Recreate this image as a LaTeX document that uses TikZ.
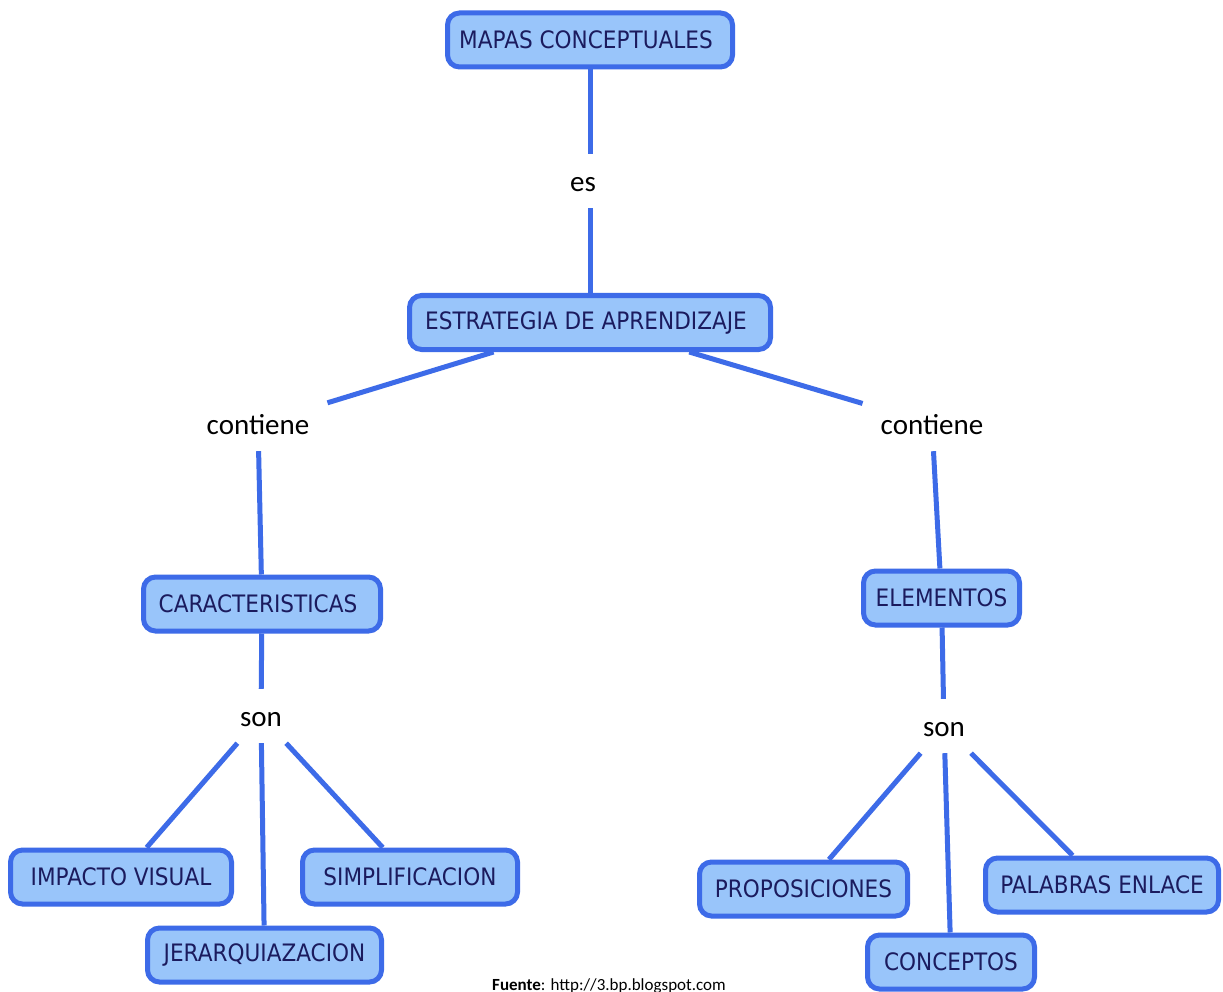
\documentclass[tikz,border=0pt]{standalone}
\usepackage{fontspec}
\setmainfont{Carlito}
\newfontfamily\boxfont[FakeStretch=0.9]{DejaVu Sans}
\usetikzlibrary{backgrounds}
\definecolor{bordeazul}{HTML}{3D6BE8}
\definecolor{rellenoazul}{HTML}{99C5FA}
\definecolor{textoazul}{HTML}{1B1B5E}
\begin{document}
\begin{tikzpicture}[x=1pt,y=-1pt,
  concepto/.style={draw=bordeazul, fill=rellenoazul, line width=5pt, rounded corners=12pt,
    text=textoazul, font=\boxfont\fontsize{24}{28}\selectfont, minimum height=54pt, inner xsep=0pt},
  textoizq/.style={execute at begin node={\hspace*{-8pt}}},
  enlace/.style={font=\fontsize{29}{34}\selectfont, inner xsep=18pt, inner ysep=0pt,
    text height=22pt, text depth=0.5pt, minimum height=54pt},
  conector/.style={draw=bordeazul, line width=5pt}]
\useasboundingbox (0,0) rectangle (1223,992);

\node[concepto, textoizq, minimum width=285pt] (mapas) at (590,40) {MAPAS CONCEPTUALES};
\node[concepto, textoizq, minimum width=361pt] (estr) at (590,322.5) {ESTRATEGIA DE APRENDIZAJE};
\node[concepto, textoizq, minimum width=237pt] (carac) at (262,604) {CARACTERISTICAS};
\node[concepto, minimum width=156pt] (elem) at (941.5,598) {ELEMENTOS};
\node[concepto, minimum width=221pt] (impacto) at (121,877) {IMPACTO VISUAL};
\node[concepto, minimum width=234pt] (jerar) at (264.5,955) {JERARQUIAZACION};
\node[concepto, minimum width=215pt] (simpl) at (410,877) {SIMPLIFICACION};
\node[concepto, minimum width=208pt] (propos) at (803.5,889) {PROPOSICIONES};
\node[concepto, minimum width=167pt] (concep) at (951,962) {CONCEPTOS};
\node[concepto, minimum width=233pt] (palabras) at (1102,885) {PALABRAS ENLACE};

\node[enlace] (es) at (583,181) {es};
\node[enlace] (cont1) at (258,424) {contiene};
\node[enlace] (cont2) at (932,424) {contiene};
\node[enlace] (son1) at (261,716) {son};
\node[enlace] (son2) at (944,726) {son};

\node[font=\fontsize{17}{20}\selectfont, anchor=base, inner sep=0pt] (fuente) at (609,990) {\textbf{Fuente}: http://3.bp.blogspot.com};

\begin{scope}[on background layer]
  \fill[white] (0,0) rectangle (1223,992);
  \draw[conector] (mapas) -- (mapas |- es.north);
  \draw[conector] (mapas |- es.south) -- (estr);
  \draw[conector] (estr) -- (cont1);
  \draw[conector] (estr) -- (cont2);
  \draw[conector] (cont1) -- (carac);
  \draw[conector] (cont2) -- (elem);
  \draw[conector] (carac) -- (son1);
  \draw[conector] (elem) -- (son2);
  \draw[conector] (son1) -- (impacto);
  \draw[conector] (son1) -- (jerar);
  \draw[conector] (son1) -- (simpl);
  \draw[conector] (son2) -- (propos);
  \draw[conector] (son2) -- (concep);
  \draw[conector] (son2) -- (palabras);
\end{scope}
\end{tikzpicture}
\end{document}
